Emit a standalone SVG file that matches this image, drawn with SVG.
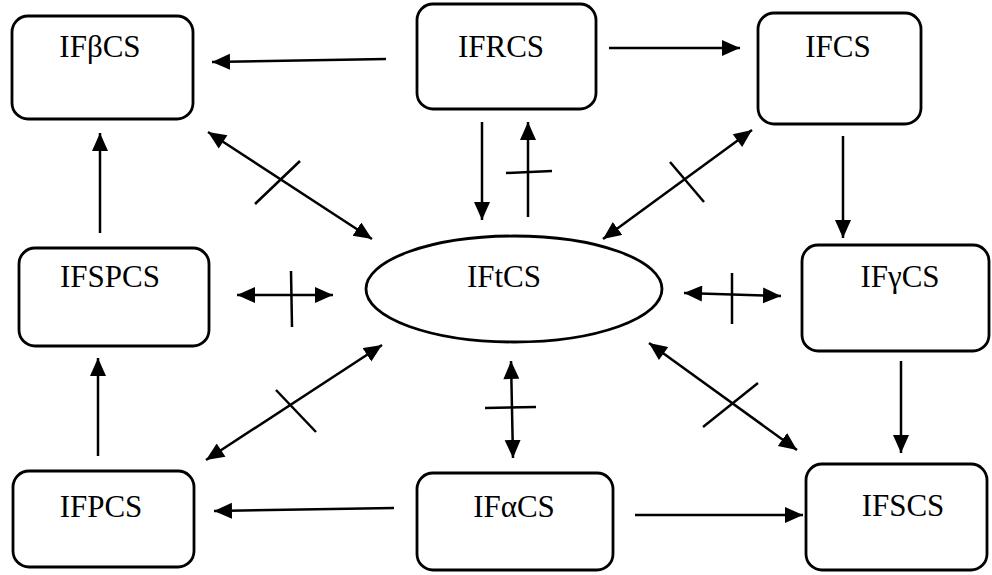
<svg xmlns="http://www.w3.org/2000/svg" width="992" height="575" viewBox="0 0 992 575">
<style>
.box{fill:#fff;stroke:#000;stroke-width:2.8}
.lbl{font-family:'Liberation Serif','Times New Roman','DejaVu Serif',serif;font-size:31px;fill:#000;text-anchor:middle}
.c line{stroke:#000;stroke-width:2.5;fill:none}
.a{marker-end:url(#ah)}
.d{marker-start:url(#ahs);marker-end:url(#ah)}
</style>
<defs>
<marker id="ah" markerUnits="userSpaceOnUse" markerWidth="19" markerHeight="17" refX="18" refY="8" orient="auto"><path d="M0,0 L18,8 L0,16 z" fill="#000"/></marker>
<marker id="ahs" markerUnits="userSpaceOnUse" markerWidth="19" markerHeight="17" refX="0" refY="8" orient="auto"><path d="M18,0 L0,8 L18,16 z" fill="#000"/></marker>
</defs>
<rect width="992" height="575" fill="#fff"/>
<g id="n-beta"><rect class="box" x="12" y="16" width="181" height="103" rx="16"/><text class="lbl" x="100" y="57">IFβCS</text></g>
<g id="n-rcs"><rect class="box" x="417" y="4" width="179" height="105" rx="16"/><text class="lbl" x="501" y="57">IFRCS</text></g>
<g id="n-cs"><rect class="box" x="758" y="13" width="163" height="111" rx="16"/><text class="lbl" x="838" y="57">IFCS</text></g>
<g id="n-spcs"><rect class="box" x="19" y="248" width="190" height="98" rx="16"/><text class="lbl" x="110" y="287">IFSPCS</text></g>
<g id="n-t"><ellipse class="box" cx="514" cy="289" rx="148" ry="53"/><text class="lbl" x="504" y="287">IFtCS</text></g>
<g id="n-gamma"><rect class="box" x="802" y="245" width="187" height="106" rx="16"/><text class="lbl" x="900" y="287">IFγCS</text></g>
<g id="n-pcs"><rect class="box" x="13" y="471" width="181" height="96" rx="16"/><text class="lbl" x="101" y="517">IFPCS</text></g>
<g id="n-alpha"><rect class="box" x="417" y="473" width="196" height="97" rx="16"/><text class="lbl" x="514" y="517">IFαCS</text></g>
<g id="n-scs"><rect class="box" x="806" y="464" width="181" height="106" rx="16"/><text class="lbl" x="903" y="516">IFSCS</text></g>
<g id="connectors" class="c">
<line class="a" x1="386" y1="59" x2="212" y2="62"/>
<line class="a" x1="609" y1="48" x2="740" y2="48"/>
<line class="a" x1="100" y1="233" x2="100" y2="133"/>
<line class="a" x1="843" y1="136" x2="843" y2="238"/>
<line class="a" x1="482" y1="122" x2="482" y2="220"/>
<line class="a" x1="528" y1="217" x2="528" y2="122"/>
<line x1="506" y1="173" x2="552" y2="171"/>
<line class="d" x1="208" y1="132" x2="372" y2="239"/>
<line x1="255" y1="204" x2="300" y2="161"/>
<line class="d" x1="752" y1="130" x2="603" y2="239"/>
<line x1="670" y1="162" x2="704" y2="202"/>
<line class="d" x1="237" y1="295" x2="333" y2="295"/>
<line x1="291" y1="271" x2="292" y2="327"/>
<line class="d" x1="684" y1="293" x2="781" y2="296"/>
<line x1="732" y1="273" x2="732" y2="324"/>
<line class="a" x1="98" y1="456" x2="98" y2="358"/>
<line class="a" x1="901" y1="361" x2="901" y2="453"/>
<line class="d" x1="206" y1="460" x2="382" y2="345"/>
<line x1="276" y1="390" x2="316" y2="432"/>
<line class="d" x1="649" y1="343" x2="797" y2="450"/>
<line x1="703" y1="427" x2="758" y2="383"/>
<line class="d" x1="511" y1="361" x2="513" y2="458"/>
<line x1="485" y1="408" x2="536" y2="407"/>
<line class="a" x1="394" y1="508" x2="214" y2="511"/>
<line class="a" x1="635" y1="515" x2="803" y2="515"/>
</g>
</svg>
